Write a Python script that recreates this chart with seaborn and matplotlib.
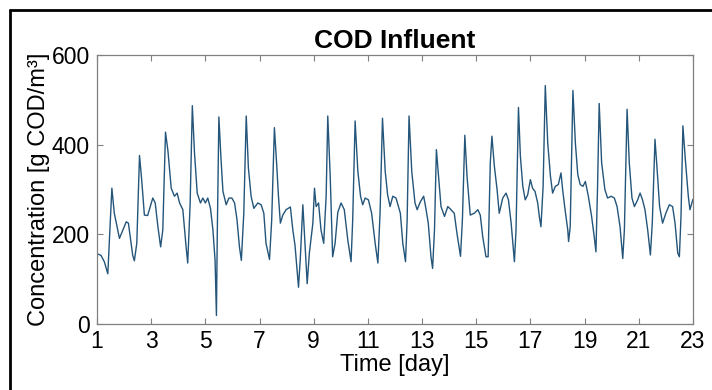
import matplotlib
matplotlib.use("Agg")
import matplotlib.pyplot as plt
from matplotlib.lines import Line2D
import seaborn as sns
import pandas as pd

# time [day] and COD influent concentration [g COD/m3]
time_day = [
    1.00, 1.15, 1.27, 1.40, 1.55, 1.64, 1.83, 2.08, 2.16, 2.32, 2.38, 2.47, 2.57, 2.65, 2.75, 2.87,
    3.06, 3.15, 3.25, 3.35, 3.43, 3.53, 3.62, 3.74, 3.86, 3.96, 4.05, 4.17, 4.29, 4.35, 4.44, 4.52,
    4.60, 4.70, 4.82, 4.91, 5.00, 5.09, 5.19, 5.28, 5.36, 5.41, 5.44, 5.50, 5.58, 5.65, 5.77, 5.87,
    5.98, 6.08, 6.17, 6.26, 6.33, 6.42, 6.51, 6.59, 6.69, 6.79, 6.94, 7.06, 7.16, 7.24, 7.37, 7.45,
    7.55, 7.63, 7.70, 7.77, 7.86, 7.98, 8.14, 8.23, 8.31, 8.44, 8.51, 8.60, 8.68, 8.76, 8.84, 8.97,
    9.03, 9.09, 9.18, 9.27, 9.37, 9.46, 9.52, 9.61, 9.70, 9.79, 9.89, 10.01, 10.13, 10.26, 10.38, 10.44,
    10.53, 10.63, 10.73, 10.81, 10.90, 11.02, 11.14, 11.27, 11.37, 11.45, 11.54, 11.64, 11.73, 11.82, 11.92, 12.04,
    12.20, 12.29, 12.39, 12.45, 12.52, 12.62, 12.74, 12.82, 12.94, 13.06, 13.15, 13.23, 13.33, 13.39, 13.46, 13.53,
    13.62, 13.70, 13.83, 13.95, 14.07, 14.19, 14.29, 14.42, 14.49, 14.58, 14.66, 14.78, 14.93, 15.06, 15.15, 15.24,
    15.36, 15.44, 15.52, 15.58, 15.67, 15.77, 15.85, 15.98, 16.10, 16.19, 16.29, 16.41, 16.47, 16.56, 16.63, 16.72,
    16.81, 16.90, 17.00, 17.08, 17.17, 17.27, 17.33, 17.39, 17.47, 17.55, 17.64, 17.74, 17.82, 17.92, 18.03, 18.13,
    18.19, 18.28, 18.38, 18.41, 18.47, 18.57, 18.66, 18.75, 18.84, 18.94, 19.03, 19.14, 19.26, 19.36, 19.42, 19.48,
    19.54, 19.63, 19.75, 19.85, 19.98, 20.10, 20.20, 20.31, 20.41, 20.47, 20.57, 20.65, 20.75, 20.84, 20.96, 21.05,
    21.14, 21.23, 21.33, 21.43, 21.50, 21.60, 21.67, 21.77, 21.88, 22.00, 22.13, 22.25, 22.34, 22.44, 22.50, 22.56,
    22.63, 22.72, 22.83, 22.89, 22.96, 23.00,
]
cod = [
    157, 153, 139, 112, 303, 247, 191, 228, 225, 153, 141, 180, 376, 322, 243, 242,
    281, 270, 217, 172, 210, 428, 386, 303, 285, 292, 270, 255, 172, 136, 270, 487,
    382, 292, 270, 281, 270, 281, 258, 210, 142, 19, 195, 462, 367, 296, 266, 281,
    281, 270, 232, 172, 142, 247, 464, 348, 285, 258, 270, 266, 247, 180, 144, 232,
    438, 360, 285, 225, 243, 255, 261, 210, 176, 82, 150, 266, 180, 90, 158, 225,
    303, 262, 270, 210, 180, 285, 464, 330, 150, 180, 249, 270, 255, 187, 139, 232,
    453, 341, 285, 266, 281, 277, 247, 180, 136, 247, 459, 341, 288, 262, 285, 281,
    247, 180, 139, 232, 464, 341, 270, 255, 273, 285, 255, 225, 150, 124, 210, 389,
    322, 262, 240, 262, 255, 247, 202, 151, 232, 421, 330, 243, 247, 255, 243, 195,
    150, 150, 360, 419, 352, 300, 247, 281, 292, 277, 225, 139, 210, 483, 375, 307,
    277, 288, 322, 303, 296, 270, 240, 217, 307, 532, 404, 330, 292, 307, 311, 337,
    300, 255, 210, 184, 217, 521, 404, 333, 311, 307, 318, 285, 240, 193, 161, 307,
    492, 360, 300, 281, 285, 281, 262, 217, 146, 210, 479, 360, 281, 262, 277, 292,
    277, 255, 210, 154, 225, 412, 352, 262, 225, 247, 266, 262, 225, 158, 150, 240,
    442, 367, 285, 255, 270, 278,
]
x_ticks = [1, 3, 5, 7, 9, 11, 13, 15, 17, 19, 21, 23]
y_ticks = [0, 200, 400, 600]

df = pd.DataFrame({"Time": time_day, "COD": cod})

sns.set_style("white")
plt.rcParams["font.family"] = ["Liberation Sans", "DejaVu Sans"]

fig = plt.figure(figsize=(7.12, 3.90), dpi=100)
ax = fig.add_axes([0.1362, 0.1692, 0.837, 0.6897])

sns.lineplot(data=df, x="Time", y="COD", ax=ax, color="#24557a", linewidth=1.0)

ax.set_xlim(1, 23)
ax.set_ylim(0, 600)
ax.set_xticks(x_ticks)
ax.set_yticks(y_ticks)
ax.tick_params(direction="in", length=4, width=0.8, color="#808080",
               labelsize=16.5, labelcolor="black", top=True, right=True,
               bottom=True, left=True)
ax.tick_params(axis="x", pad=4)
ax.tick_params(axis="y", pad=5)
for s in ax.spines.values():
    s.set_color("#808080")
    s.set_linewidth(0.9)

ax.set_title("COD Influent", fontsize=19, fontweight="bold", pad=5, color="black")
ax.set_xlabel("Time [day]", fontsize=17, labelpad=1, color="black")
ax.set_ylabel("Concentration [g COD/m³]", fontsize=17, labelpad=1, color="black")

# frame around the figure
fig.add_artist(Line2D([10 / 712, 10 / 712], [0, 1 - 10 / 390], color="black", lw=2))
fig.add_artist(Line2D([10 / 712, 1], [1 - 10 / 390, 1 - 10 / 390], color="black", lw=2))

fig.savefig("out.png", dpi=100)
